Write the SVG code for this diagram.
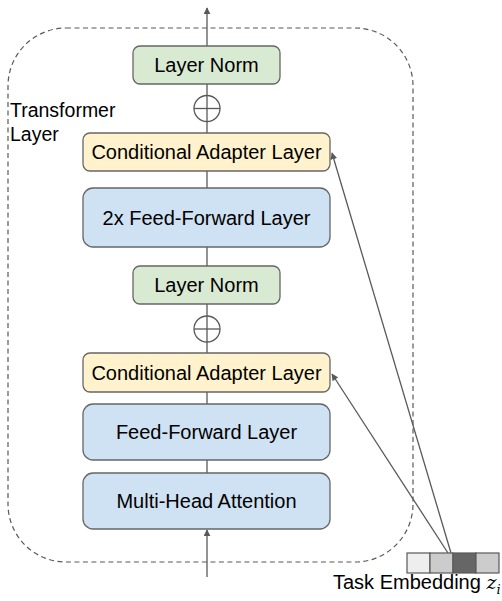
<svg xmlns="http://www.w3.org/2000/svg" width="502" height="601" viewBox="0 0 502 601">
<defs>
<marker id="ah" viewBox="0 0 10 10" refX="9" refY="5" markerWidth="7" markerHeight="7" markerUnits="userSpaceOnUse" orient="auto">
<path d="M0,0 L10,5 L0,10 z" fill="#595959"/>
</marker>
<style>
.t{font-family:"Liberation Sans",Arial,sans-serif;font-size:20px;fill:#000;text-anchor:middle}
.box{stroke:#666;stroke-width:1.3}
.g{fill:#d9ead3}.y{fill:#fff2cc}.b{fill:#cfe2f3}
.ln{stroke:#595959;stroke-width:1.3;fill:none}
</style>
</defs>
<rect width="502" height="601" fill="#fff"/>
<g id="transformer-layer">
<rect x="8" y="28" width="405" height="534" rx="58" ry="58" fill="none" stroke="#595959" stroke-width="1.2" stroke-dasharray="5,3.5"/>
<text x="10" y="117" style="font-family:'Liberation Sans',Arial,sans-serif;font-size:19.5px">Transformer</text>
<text x="10" y="141" style="font-family:'Liberation Sans',Arial,sans-serif;font-size:19.5px">Layer</text>
</g>
<g id="connectors">
<line class="ln" x1="207" y1="46" x2="207" y2="8" marker-end="url(#ah)"/>
<line class="ln" x1="207" y1="84" x2="207" y2="133"/>
<line class="ln" x1="207" y1="171" x2="207" y2="188"/>
<line class="ln" x1="207" y1="247" x2="207" y2="266"/>
<line class="ln" x1="207" y1="304" x2="207" y2="353"/>
<line class="ln" x1="207" y1="392" x2="207" y2="404"/>
<line class="ln" x1="207" y1="460" x2="207" y2="473"/>
<line class="ln" x1="207" y1="577" x2="207" y2="530" marker-end="url(#ah)"/>
<line class="ln" x1="451" y1="553" x2="332" y2="153" marker-end="url(#ah)"/>
<line class="ln" x1="448" y1="553" x2="332" y2="374" marker-end="url(#ah)"/>
</g>
<g id="add1">
<circle cx="207" cy="108.5" r="13" fill="#fff" stroke="#595959" stroke-width="1.3"/>
<line class="ln" x1="194" y1="108.5" x2="220" y2="108.5"/>
<line class="ln" x1="207" y1="95.5" x2="207" y2="121.5"/>
</g>
<g id="add2">
<circle cx="207" cy="329" r="13" fill="#fff" stroke="#595959" stroke-width="1.3"/>
<line class="ln" x1="194" y1="329" x2="220" y2="329"/>
<line class="ln" x1="207" y1="316" x2="207" y2="342"/>
</g>
<g id="layer-norm-top">
<rect class="box g" x="133" y="46" width="147" height="38" rx="7"/>
<text class="t" x="206.5" y="72">Layer Norm</text>
</g>
<g id="cond-adapter-top">
<rect class="box y" x="83" y="133" width="247" height="38" rx="7"/>
<text class="t" x="206.5" y="159">Conditional Adapter Layer</text>
</g>
<g id="ff2x">
<rect class="box b" x="83" y="188" width="247" height="59" rx="10"/>
<text class="t" x="206.5" y="224.5">2x Feed-Forward Layer</text>
</g>
<g id="layer-norm-mid">
<rect class="box g" x="133" y="266" width="147" height="38" rx="7"/>
<text class="t" x="206.5" y="292">Layer Norm</text>
</g>
<g id="cond-adapter-mid">
<rect class="box y" x="83" y="353" width="247" height="39" rx="7"/>
<text class="t" x="206.5" y="379.5">Conditional Adapter Layer</text>
</g>
<g id="ff">
<rect class="box b" x="83" y="404" width="247" height="56" rx="10"/>
<text class="t" x="206.5" y="439">Feed-Forward Layer</text>
</g>
<g id="mha">
<rect class="box b" x="83" y="473" width="247" height="56" rx="10"/>
<text class="t" x="206.5" y="508">Multi-Head Attention</text>
</g>
<g id="task-embedding">
<rect x="407" y="553" width="23" height="20" fill="#eeeeee" stroke="#595959" stroke-width="1.2"/>
<rect x="430" y="553" width="23" height="20" fill="#cccccc" stroke="#595959" stroke-width="1.2"/>
<rect x="453" y="553" width="23" height="20" fill="#666666" stroke="#595959" stroke-width="1.2"/>
<rect x="476" y="553" width="23" height="20" fill="#cccccc" stroke="#595959" stroke-width="1.2"/>
<text x="333" y="589" style="font-family:'Liberation Sans',Arial,sans-serif;font-size:20px">Task Embedding <tspan style="font-family:'DejaVu Serif','Liberation Serif',serif;font-style:italic;font-size:19px">z</tspan><tspan dy="5" style="font-family:'DejaVu Serif','Liberation Serif',serif;font-style:italic;font-size:13px">i</tspan></text>
</g>
</svg>
